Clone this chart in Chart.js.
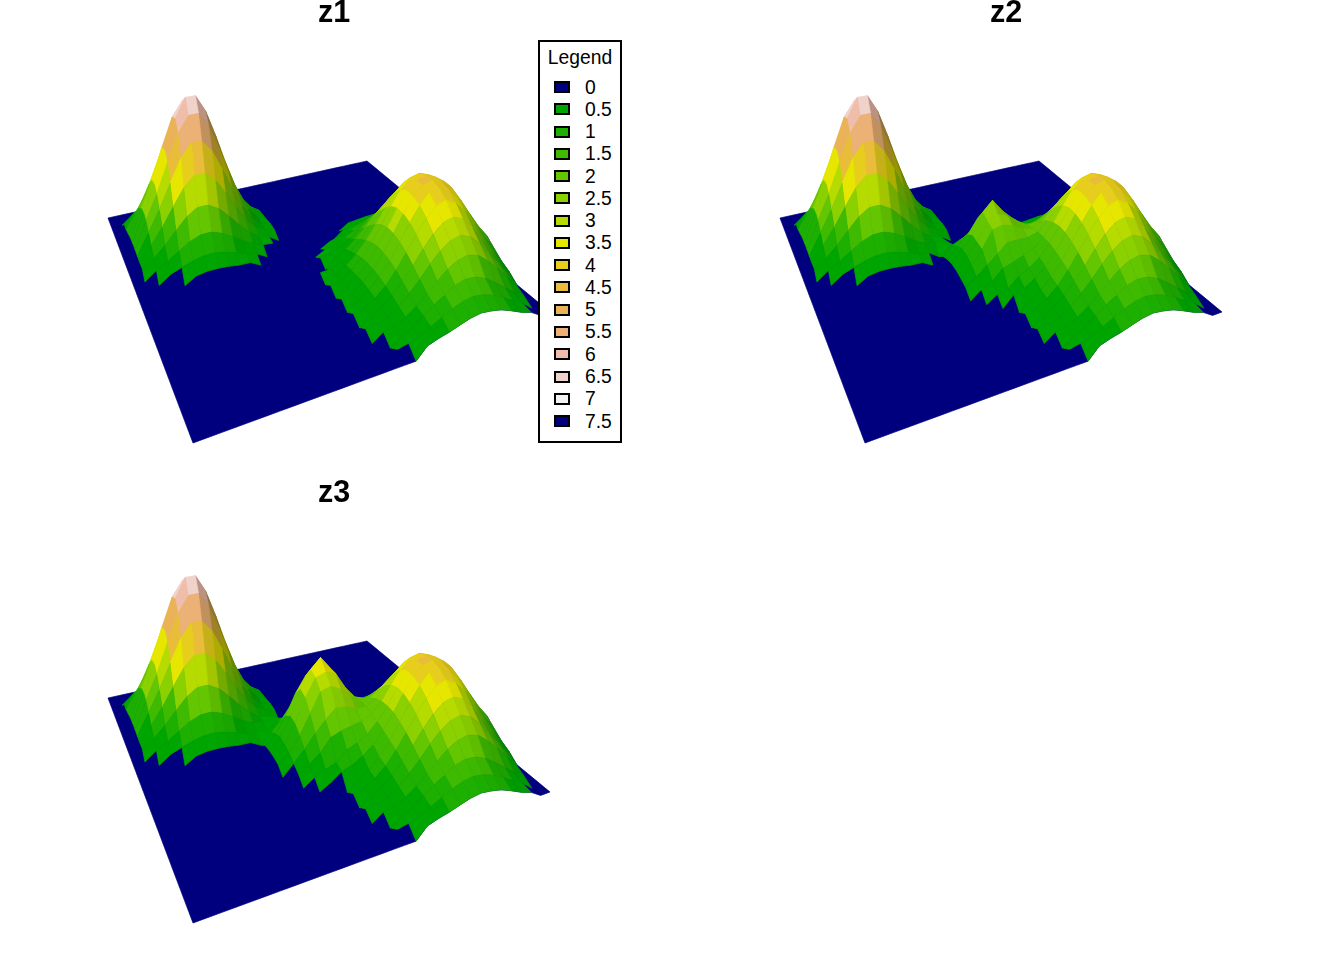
<!DOCTYPE html>
<html>
<head>
<meta charset="utf-8">
<title>z surfaces</title>
<script src="https://cdn.jsdelivr.net/npm/chart.js@4"></script>
<style>
  html, body { margin: 0; background: #fff; overflow: hidden; }
  body { width: 1344px; height: 960px; position: relative; font-family: "Liberation Sans", Arial, sans-serif; }
  canvas { position: absolute; }
  #legend { position: absolute; left: 538px; top: 40px; width: 84px; height: 403px; box-sizing: border-box;
            border: 2px solid #000; background: #fff; color: #000; font-size: 19.3px; }
  #legend .title { position: absolute; left: 0; right: 0; top: 4px; text-align: center; line-height: 24px; }
  #legend .item { position: absolute; left: 45px; line-height: 22px; }
  #legend .swatch { position: absolute; left: 14px; width: 16px; height: 12px; box-sizing: border-box; border: 2px solid #000; }
</style>
</head>
<body>
<canvas id="panel1" width="668" height="480" style="left:0;top:0"></canvas>
<canvas id="panel2" width="668" height="480" style="left:672px;top:0"></canvas>
<canvas id="panel3" width="668" height="480" style="left:0;top:480px"></canvas>
<div id="legend"><div class="title">Legend</div></div>
<script>
const titles = ['z1', 'z2', 'z3'];
const legendLabels = ['0','0.5','1','1.5','2','2.5','3','3.5','4','4.5','5','5.5','6','6.5','7','7.5'];
const legendColors = ['#00007f','#00a600','#1db000','#3ebb00','#63c600','#8bd000','#b6db00','#e6e600',
                      '#e7ce1d','#e9bd3a','#eab358','#ecb176','#eebeaa','#efd3ca','#f2f2f2','#00007f'];

// heights, one row per v step (back to front), 31 columns
const z1Rows = [
  [0,0,0,0,0,.3,.34,.34,.31,0,0,0,0,0,0,0,0,0,0,0,0,0,0,0,0,0,0,0,0,0,0],
  [0,0,0,.35,.53,.7,.8,.8,.72,.57,.4,.25,0,0,0,0,0,0,0,0,0,0,0,0,0,0,0,0,0,0,0],
  [0,0,.41,.71,1.07,1.41,1.61,1.62,1.44,1.13,.8,.5,.28,0,0,0,0,0,0,0,0,0,0,0,0,0,0,0,0,0,0],
  [0,.3,.72,1.24,1.88,2.47,2.83,2.84,2.52,1.99,1.4,.88,.49,0,0,0,0,0,0,0,0,0,0,0,0,0,0,0,0,0,0],
  [0,.3,1.1,1.91,2.88,3.78,4.34,4.34,3.86,3.05,2.15,1.34,.75,.37,0,0,0,0,0,0,0,0,0,0,0,0,0,0,0,0,0],
  [0,.35,1.47,2.54,3.83,5.03,5.77,5.78,5.14,4.06,2.86,1.78,.99,.49,0,0,0,0,0,0,0,0,0,0,0,0,0,0,0,0,0],
  [0,.4,1.71,2.95,4.45,5.85,6.58,6.58,5.98,4.73,3.33,2.08,1.15,.57,.25,0,0,0,0,0,0,0,0,0,0,0,0,0,0,0,0],
  [0,.4,1.74,3,4.52,5.95,6.9,6.9,6.08,4.8,3.38,2.11,1.17,.58,.26,0,0,0,0,0,0,0,0,0,0,0,0,0,0,0,0],
  [0,.38,1.58,2.73,4.11,5.41,6.2,6.22,5.53,4.37,3.07,1.92,1.07,.52,.27,0,0,0,0,0,0,0,0,0,0,0,0,0,0,0,0],
  [0,.33,1.29,2.23,3.37,4.43,5.08,5.09,4.53,3.58,2.52,1.57,.87,.43,.3,0,0,0,0,0,0,0,0,0,0,0,0,0,0,0,0],
  [0,.3,.95,1.65,2.48,3.27,3.75,3.75,3.34,2.64,1.86,1.16,.64,.4,.25,0,0,0,0,0,0,0,0,0,0,0,0,0,0,0,0],
  [0,.3,.63,1.09,1.65,2.17,2.49,2.49,2.22,1.75,1.23,.77,.43,.3,0,0,0,0,0,0,0,0,0,0,0,0,0,0,0,0,0],
  [0,0,.38,.65,.98,1.29,1.48,1.49,1.32,1.04,.74,.46,.3,.25,0,0,0,0,0,0,0,.28,.33,.38,.39,.37,.31,0,0,0,0],
  [0,0,0,.35,.53,.69,.8,.8,.71,.56,.39,.25,0,0,0,0,0,0,0,0,.34,.45,.54,.61,.63,.6,.5,.38,.26,0,0],
  [0,0,0,0,0,.3,.38,.38,.34,.27,.25,0,0,0,0,0,0,0,.25,.37,.53,.69,.84,.94,.98,.93,.84,.69,.53,.37,.25],
  [0,0,0,0,0,0,0,0,0,0,0,0,0,0,0,0,0,.25,.36,.55,.78,1.02,1.23,1.39,1.44,1.36,1.23,1.02,.78,.55,.36],
  [0,0,0,0,0,0,0,0,0,0,0,0,0,0,0,0,.25,.3,.5,.76,1.08,1.41,1.71,1.92,2,1.89,1.71,1.41,1.08,.76,.5],
  [0,0,0,0,0,0,0,0,0,0,0,0,0,0,0,0,0,.4,.66,1,1.42,1.86,2.25,2.53,2.63,2.49,2.25,1.86,1.42,1,.66],
  [0,0,0,0,0,0,0,0,0,0,0,0,0,0,0,.25,.28,.5,.82,1.25,1.76,2.3,2.79,3.14,3.26,3.08,2.79,2.3,1.76,1.25,.82],
  [0,0,0,0,0,0,0,0,0,0,0,0,0,0,0,0,.33,.58,.96,1.46,2.07,2.71,3.28,3.68,3.83,3.62,3.28,2.71,2.07,1.46,.96],
  [0,0,0,0,0,0,0,0,0,0,0,0,0,0,0,.25,.36,.65,1.07,1.63,2.3,3.01,3.65,4.1,4.2,4.03,3.65,3.01,2.3,1.63,1.07],
  [0,0,0,0,0,0,0,0,0,0,0,0,0,0,0,0,.38,.68,1.12,1.71,2.42,3.17,3.84,4.2,4.3,4.15,3.84,3.17,2.42,1.71,1.12],
  [0,0,0,0,0,0,0,0,0,0,0,0,0,0,0,.25,.38,.68,1.12,1.7,2.41,3.15,3.82,4.2,4.32,4.15,3.82,3.15,2.41,1.7,1.12],
  [0,0,0,0,0,0,0,0,0,0,0,0,0,0,0,0,.36,.65,1.07,1.63,2.3,3.01,3.65,4.1,4.2,4.03,3.5,2.85,2.1,1.4,.8],
  [0,0,0,0,0,0,0,0,0,0,0,0,0,0,0,.25,.33,.59,.98,1.49,2.11,2.76,3.34,3.75,3.9,3.69,3.2,2.5,1.75,1.1,.5],
  [0,0,0,0,0,0,0,0,0,0,0,0,0,0,0,0,.29,.52,.85,1.3,1.84,2.41,2.92,3.28,3.41,3.23,2.75,2.1,1.45,.85,.3],
  [0,0,0,0,0,0,0,0,0,0,0,0,0,0,0,.25,.28,.44,.72,1.1,1.55,2.03,2.46,2.76,2.87,2.72,2.3,1.74,1.18,.6,0],
  [0,0,0,0,0,0,0,0,0,0,0,0,0,0,0,0,.3,.35,.58,.88,1.25,1.63,1.98,2.22,2.31,2.19,1.85,1.4,.95,.45,0],
  [0,0,0,0,0,0,0,0,0,0,0,0,0,0,0,0,0,.27,.5,.8,1.1,1.35,1.6,1.72,1.68,1.5,1.2,.85,.5,.25,0],
  [0,0,0,0,0,0,0,0,0,0,0,0,0,0,0,0,.27,.35,.45,.68,.9,1.1,1.25,1.32,1.25,1.1,.85,.6,.35,0,0],
  [0,0,0,0,0,0,0,0,0,0,0,0,0,0,0,0,0,0,.42,.55,.65,.78,.9,.96,.9,.8,.62,.42,.27,0,0]
];
// the extra hill of z2 and z3, added to z1 from column 11, row 12
const extraStartCol = 11, extraStartRow = 12;
const z2Extra = [
  [.03,.07,.14,.22,.29,.31,.26,.17,.09,.04,.01],
  [.06,.15,.31,.51,.66,.69,.58,.39,.21,.09,.03],
  [.11,.28,.62,.9,1.2,1.3,1.05,.75,.38,.16,.06],
  [.16,.41,.9,1.3,1.95,2.1,1.6,1.1,.56,.24,.08],
  [.19,.48,1,1.5,2.45,2.65,2,1.35,.7,.28,.1],
  [.18,.46,.98,1.45,2.3,2.5,1.9,1.3,.66,.27,.09],
  [.15,.38,.82,1.4,1.9,1.98,1.62,1.05,.52,.22,.08],
  [.11,.28,.6,.98,1.35,1.4,1.15,.75,.38,.16,.06],
  [.07,.17,.35,.57,.74,.77,.65,.43,.23,.1,.03],
  [.04,.09,.19,.3,.4,.42,.35,.23,.13,.05,.02],
  [.02,.04,.09,.15,.19,.2,.17,.11,.06,.03,.01]
];
const z3Extra = [
  [.05,.11,.23,.36,.48,.51,.43,.28,.15,.07,.02],
  [.1,.25,.51,.84,1.08,1.13,.95,.64,.34,.15,.05],
  [.18,.46,.93,1.53,1.98,2.08,1.74,1.16,.62,.26,.1],
  [.26,.67,1.36,2.3,3,3.15,2.6,1.71,.92,.39,.13],
  [.31,.79,1.59,2.7,3.5,3.7,3.05,2,1.07,.46,.16],
  [.3,.75,1.53,2.55,3.35,3.5,2.95,1.92,1.03,.44,.15],
  [.25,.62,1.26,2.07,2.71,2.82,2.36,1.59,.85,.36,.13],
  [.18,.46,.92,1.49,1.95,2.05,1.71,1.15,.62,.26,.1],
  [.11,.28,.57,.93,1.21,1.26,1.07,.71,.38,.16,.05],
  [.07,.15,.31,.49,.66,.69,.57,.38,.21,.08,.03],
  [.03,.07,.15,.25,.31,.33,.28,.18,.1,.05,.02]
];

// view: where the four corners of the plate land, and pixels per unit of height
const cornerBackLeft = [108, 218], cornerBack = [367, 161], cornerRight = [550, 312], cornerFront = [193, 443];
const heightScale = 19.5;
const cutoff = 0.25;
const topOfPlot = 30.5;

const n = z1Rows.length - 1;
const [x00, y00] = cornerBackLeft, [x10, y10] = cornerBack, [x11, y11] = cornerRight, [x01, y01] = cornerFront;
const dx1 = x10 - x11, dy1 = y10 - y11, dx2 = x01 - x11, dy2 = y01 - y11;
const sx = x00 - x10 + x11 - x01, sy = y00 - y10 + y11 - y01;
const det = dx1 * dy2 - dx2 * dy1;
const g = (sx * dy2 - dx2 * sy) / det, h = (dx1 * sy - sx * dy1) / det;

function project(col, row, z) {
  const u = col / n, v = row / n;
  const w = 1 + g * u + h * v;
  return {
    x: (x00 + (x10 - x00 + g * x10) * u + (x01 - x00 + h * x01) * v) / w,
    y: (y00 + (y10 - y00 + g * y10) * u + (y01 - y00 + h * y01) * v - heightScale * z) / w
  };
}

function addExtra(rows, extra) {
  const out = rows.map(r => r.slice());
  if (extra) extra.forEach((r, a) => r.forEach((val, b) => { out[extraStartRow + a][extraStartCol + b] += val; }));
  return out.map(r => r.map(val => (val < cutoff ? 0 : val)));
}

function shaded(hex, s) {
  const c = [1, 3, 5].map(k => Math.round(parseInt(hex.substr(k, 2), 16) * s));
  return `rgb(${c[0]},${c[1]},${c[2]})`;
}

function polygon(points, color) {
  return {
    data: points.concat([points[0]]),
    showLine: true, fill: 'shape', tension: 0,
    backgroundColor: color, borderColor: color, borderWidth: 0.7,
    pointRadius: 0, clip: false
  };
}

function surfaceDatasets(z) {
  const sets = [];
  // the navy plate follows the raised edge of the surface
  const rim = [];
  for (let k = 0; k < n; k++) rim.push(project(k, 0, z[0][k]));
  for (let k = 0; k < n; k++) rim.push(project(n, k, z[k][n]));
  for (let k = n; k > 0; k--) rim.push(project(k, n, z[n][k]));
  for (let k = n; k > 0; k--) rim.push(project(0, k, z[k][0]));
  sets.push(polygon(rim, legendColors[0]));
  // far cells first
  for (let row = 0; row < n; row++) {
    for (let col = n - 1; col >= 0; col--) {
      const a = z[row][col], b = z[row][col + 1], c = z[row + 1][col + 1], d = z[row + 1][col];
      const above = [a, b, c, d].filter(val => val > 0).length;
      if (above < 3) continue;
      const mean = (a + b + c + d) / 4;
      const band = Math.max(1, Math.min(14, Math.round(mean / 0.5)));
      const slope = ((b - a) + (c - d)) / 2;
      const s = Math.max(0.5, 1 + 0.3 * Math.min(0, slope));
      sets.push(polygon([project(col, row, a), project(col + 1, row, b), project(col + 1, row + 1, c), project(col, row + 1, d)],
        shaded(legendColors[band], s)));
    }
  }
  return sets.reverse(); // Chart.js paints the first dataset last
}

const surfaces = [addExtra(z1Rows), addExtra(z1Rows, z2Extra), addExtra(z1Rows, z3Extra)];

surfaces.forEach((z, k) => {
  new Chart(document.getElementById('panel' + (k + 1)).getContext('2d'), {
    type: 'scatter',
    data: { datasets: surfaceDatasets(z) },
    options: {
      responsive: false,
      animation: false,
      devicePixelRatio: 1,
      events: [],
      layout: { padding: 0 },
      plugins: {
        legend: { display: false },
        tooltip: { enabled: false },
        title: {
          display: true, text: titles[k], color: '#000',
          font: { family: '"Liberation Sans", Arial, sans-serif', size: 30.5, weight: 'bold', lineHeight: 1 },
          padding: { top: -2, bottom: 2 }
        }
      },
      scales: {
        x: { type: 'linear', display: false, min: 0, max: 668 },
        y: { type: 'linear', display: false, min: topOfPlot, max: 480, reverse: true }
      }
    }
  });
});

const legend = document.getElementById('legend');
legendLabels.forEach((label, k) => {
  const rowY = 34.5 + k * 22.27;
  const swatch = document.createElement('div');
  swatch.className = 'swatch';
  swatch.style.top = Math.round(rowY + 4.5) + 'px';
  swatch.style.background = legendColors[k];
  const item = document.createElement('div');
  item.className = 'item';
  item.style.top = Math.round(rowY) + 'px';
  item.textContent = label;
  legend.appendChild(swatch);
  legend.appendChild(item);
});
</script>
</body>
</html>
